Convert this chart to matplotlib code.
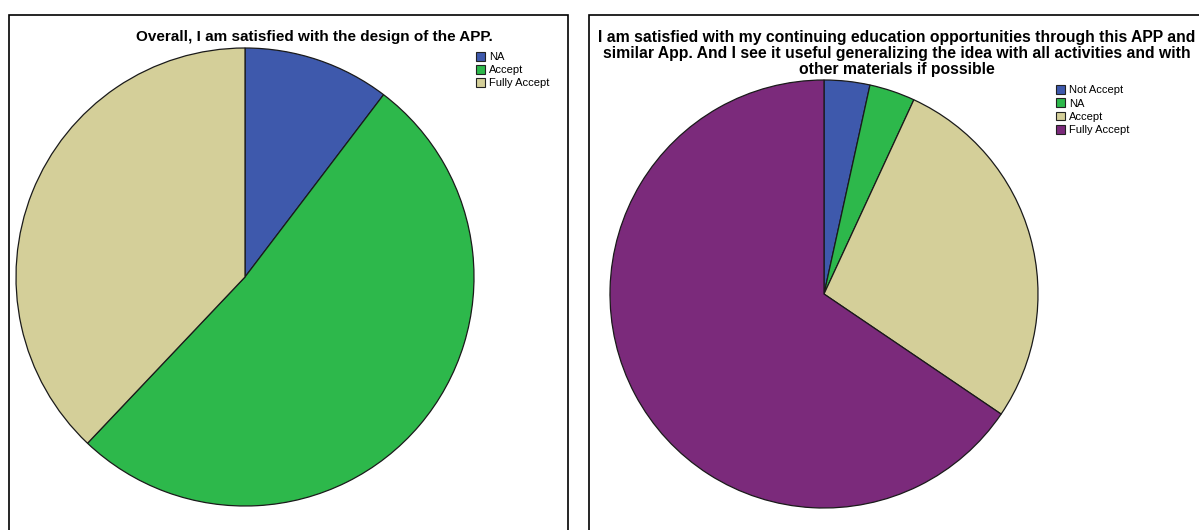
import matplotlib
matplotlib.use("Agg")
import matplotlib.pyplot as plt
from matplotlib.patches import Rectangle, Patch

plt.rcParams['font.family'] = ['Liberation Sans', 'DejaVu Sans']

# Data (counts, n = 29)
left_title = "Overall, I am satisfied with the design of the APP."
left_labels = ["NA", "Accept", "Fully Accept"]
left_values = [3, 15, 11]

right_title = ("I am satisfied with my continuing education opportunities through this APP and\n"
               "similar App. And I see it useful generalizing the idea with all activities and with\n"
               "other materials if possible")
right_labels = ["Not Accept", "NA", "Accept", "Fully Accept"]
right_values = [1, 1, 8, 19]

left_colors = ["#3E59AC", "#2DB84B", "#D4CF99"]
right_colors = ["#3E59AC", "#2DB84B", "#D4CF99", "#7B2A7B"]

W, H = 1199, 530
fig = plt.figure(figsize=(W / 100, H / 100), dpi=100)
fig.patch.set_facecolor("white")


def px_axes(x0, y0_top, w, h):
    return fig.add_axes([x0 / W, (H - y0_top - h) / H, w / W, h / H])


# Panel borders
fig.patches.append(Rectangle((8.5 / W, -0.05), (567.5 - 8.5) / W, (H - 14.5) / H + 0.05,
                             transform=fig.transFigure, fill=False, edgecolor="black", lw=1.2))
fig.patches.append(Rectangle((588.5 / W, -0.05), 1.0, (H - 14.5) / H + 0.05,
                             transform=fig.transFigure, fill=False, edgecolor="black", lw=1.2))


def draw_pie(cx, cy, r, values, colors):
    ax = px_axes(cx - r, cy - r, 2 * r, 2 * r)
    wedges, _ = ax.pie(values, colors=colors, startangle=90, counterclock=False,
                       wedgeprops=dict(edgecolor="#1a1a1a", linewidth=0.9))
    for w in wedges:
        w.set_clip_on(False)
    ax.set_xlim(-1, 1)
    ax.set_ylim(-1, 1)
    ax.set_axis_off()
    return ax


draw_pie(245, 277, 229, left_values, left_colors)
draw_pie(824, 294, 214, right_values, right_colors)

fig.text(314 / W, 1 - 37 / H, left_title, ha="center", va="center",
         fontsize=11, fontweight="bold")
fig.text(897 / W, 1 - 53.5 / H, right_title, ha="center", va="center",
         fontsize=11.3, fontweight="bold", linespacing=1.12)


def legend(x, y, labels, colors, spacing):
    handles = [Patch(facecolor=c, edgecolor="#222222", linewidth=0.8) for c in colors]
    fig.legend(handles, labels, loc="upper left", bbox_to_anchor=(x / W, 1 - y / H),
               frameon=False, fontsize=8, handlelength=0.85, handleheight=0.85,
               handletextpad=0.3, labelspacing=spacing, borderpad=0, borderaxespad=0)


legend(476, 52, left_labels, left_colors, 0.25)
legend(1056, 85, right_labels, right_colors, 0.27)

fig.savefig("out.png", dpi=100, facecolor="white")
